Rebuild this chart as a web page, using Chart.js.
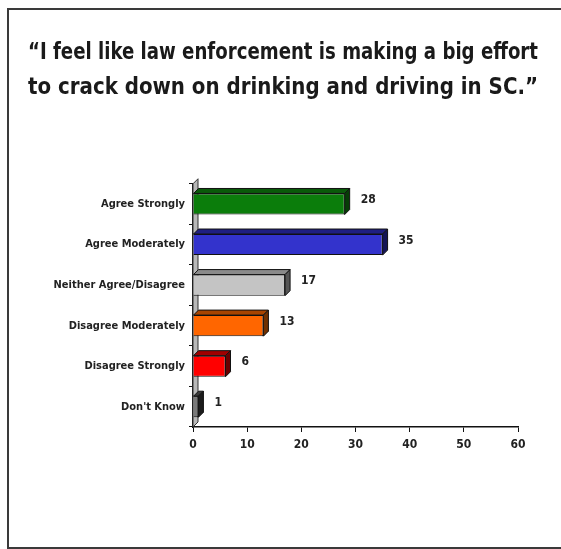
<!DOCTYPE html>
<html>
<head>
<meta charset="utf-8">
<script src="https://cdn.jsdelivr.net/npm/chart.js@4.4.0/dist/chart.umd.min.js"></script>
<style>
  body { margin: 0; background: #fff; }
  #wrap { position: relative; width: 561px; height: 549px; overflow: hidden; }
  #frame {
    position: absolute; left: 7px; top: 8px; width: 600px; height: 537px;
    border: 2px solid #3a3a3a; pointer-events: none;
  }
</style>
</head>
<body>
<div id="wrap">
  <canvas id="surveyChart" width="561" height="549"></canvas>
  <div id="frame"></div>
</div>
<script>
// survey answers and percentages
const categories = [
    "Agree Strongly",
    "Agree Moderately",
    "Neither Agree/Disagree",
    "Disagree Moderately",
    "Disagree Strongly",
    "Don't Know",
];
const percentages = [28, 35, 17, 13, 6, 1];
const xTicks = [0, 10, 20, 30, 40, 50, 60];

const titleLines = [
    "\u201cI feel like law enforcement is making a big effort",
    "to crack down on drinking and driving in SC.\u201d",
];

const faceColors = ["#0b7d0b", "#3333cc", "#c4c4c4", "#ff6600", "#ff0000", "#7a7a7a"];
const topColors = ["#0a5a0a", "#1f1f80", "#8a8a8a", "#a84400", "#a00000", "#3a3a3a"];
const sideColors = ["#063d06", "#141455", "#555555", "#703000", "#6a0000", "#1c1c1c"];

const FONT = "'Liberation Sans Narrow', 'DejaVu Sans Condensed', Arial, sans-serif";
const DEPTH = 5;

// fake 3D faces + value labels, positioned from the bar elements
const bar3d = {
    id: "bar3d",
    beforeDatasetsDraw(chart) {
        const { ctx, chartArea } = chart;
        // thin side wall along the value axis
        ctx.save();
        ctx.fillStyle = "#b8b8b8";
        ctx.strokeStyle = "#333";
        ctx.lineWidth = 1;
        ctx.beginPath();
        ctx.moveTo(chartArea.left, chartArea.bottom);
        ctx.lineTo(chartArea.left, chartArea.top);
        ctx.lineTo(chartArea.left + DEPTH, chartArea.top - DEPTH);
        ctx.lineTo(chartArea.left + DEPTH, chartArea.bottom - DEPTH);
        ctx.closePath();
        ctx.fill();
        ctx.stroke();
        ctx.restore();
    },
    afterDatasetsDraw(chart) {
        const { ctx } = chart;
        const meta = chart.getDatasetMeta(0);
        ctx.save();
        ctx.strokeStyle = "#111";
        ctx.lineWidth = 1;
        meta.data.forEach((bar, i) => {
            const h = bar.height / 2;
            const x0 = bar.base;
            const x1 = bar.x;
            const yt = bar.y - h;
            const yb = bar.y + h;
            // top face
            ctx.fillStyle = topColors[i];
            ctx.beginPath();
            ctx.moveTo(x0, yt);
            ctx.lineTo(x0 + DEPTH, yt - DEPTH);
            ctx.lineTo(x1 + DEPTH, yt - DEPTH);
            ctx.lineTo(x1, yt);
            ctx.closePath();
            ctx.fill();
            ctx.stroke();
            // right face
            ctx.fillStyle = sideColors[i];
            ctx.beginPath();
            ctx.moveTo(x1, yt);
            ctx.lineTo(x1 + DEPTH, yt - DEPTH);
            ctx.lineTo(x1 + DEPTH, yb - DEPTH);
            ctx.lineTo(x1, yb);
            ctx.closePath();
            ctx.fill();
            ctx.stroke();
            // value label
            ctx.fillStyle = "#222";
            ctx.font = "bold 12px " + FONT;
            ctx.textAlign = "left";
            ctx.textBaseline = "middle";
            ctx.fillText(String(percentages[i]), x1 + DEPTH + 11, bar.y - 4);
        });
        ctx.restore();
    },
};

const ctx = document.getElementById("surveyChart").getContext("2d");

new Chart(ctx, {
    type: "bar",
    data: {
        labels: categories,
        datasets: [
            {
                data: percentages,
                backgroundColor: faceColors,
                borderColor: "#111",
                borderWidth: 1,
                categoryPercentage: 1.0,
                barPercentage: 0.52,
            },
        ],
    },
    options: {
        indexAxis: "y",
        responsive: false,
        animation: false,
        layout: {
            padding: { left: 28, right: 23, top: 0, bottom: 92 },
        },
        plugins: {
            legend: { display: false },
            tooltip: { enabled: false },
            title: {
                display: true,
                text: titleLines,
                color: "#1a1a1a",
                font: { family: FONT, size: 22.5, weight: "bold", lineHeight: 1.55 },
                padding: { top: 36, bottom: 78 },
            },
        },
        scales: {
            x: {
                min: 0,
                max: 60,
                afterBuildTicks: (scale) => {
                    scale.ticks = xTicks.map((v) => ({ value: v }));
                },
                afterFit: (scale) => {
                    scale.height = 30;
                },
                border: { display: true, color: "#111", width: 1.5 },
                grid: { display: true, drawOnChartArea: false, tickLength: 5, color: "#111" },
                ticks: {
                    color: "#222",
                    padding: 6,
                    font: { family: FONT, size: 12, weight: "bold" },
                },
            },
            y: {
                afterFit: (scale) => {
                    scale.width = 165;
                },
                border: { display: true, color: "#111", width: 1.5 },
                grid: { display: true, drawOnChartArea: false, offset: true, tickLength: 4, color: "#111" },
                ticks: {
                    color: "#222",
                    padding: 4,
                    font: { family: FONT, size: 11, weight: "bold" },
                },
            },
            // empty spacer on the right so the plot stops at 60 where the original does
            spacer: {
                type: "linear",
                axis: "y",
                position: "right",
                display: true,
                afterFit: (scale) => {
                    scale.width = 20;
                },
                border: { display: false },
                grid: { display: false },
                ticks: { display: false },
            },
        },
    },
    plugins: [bar3d],
});
</script>
</body>
</html>
